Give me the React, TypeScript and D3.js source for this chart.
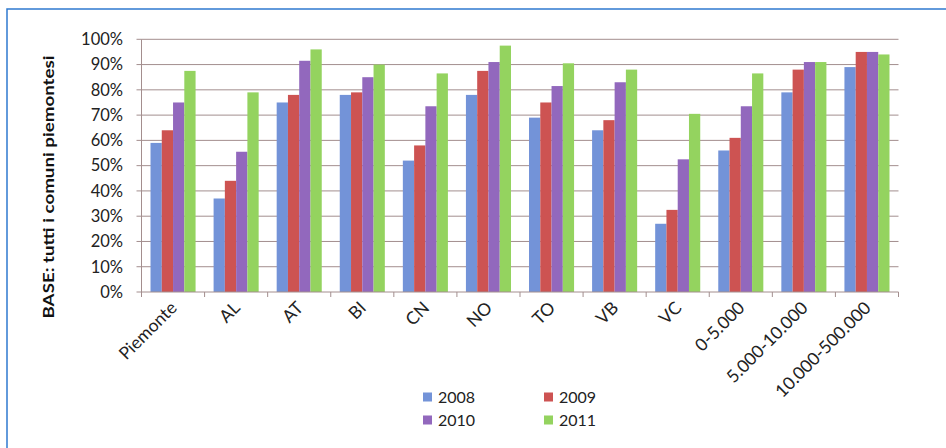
import React from "react";
import * as d3 from "d3";

const categories = ["Piemonte", "AL", "AT", "BI", "CN", "NO", "TO", "VB", "VC", "0-5.000", "5.000-10.000", "10.000-500.000"];
const seriesNames = ["2008", "2009", "2010", "2011"];
const v2008 = [59, 37, 75, 78, 52, 78, 69, 64, 27, 56, 79, 89];
const v2009 = [64, 44, 78, 79, 58, 87.5, 75, 68, 32.5, 61, 88, 95];
const v2010 = [75, 55.5, 91.5, 85, 73.5, 91, 81.5, 83, 52.5, 73.5, 91, 95];
const v2011 = [87.5, 79, 96, 90, 86.5, 97.5, 90.5, 88, 70.5, 86.5, 91, 94];
const yTicks = [0, 10, 20, 30, 40, 50, 60, 70, 80, 90, 100];
const colors = ["#7393d8", "#cd5352", "#9268bd", "#94d35f"];
const yTitle = "BASE: tutti i comuni piemontesi";

const W = 946;
const H = 448;
const FONT = "Lato, 'Open Sans', sans-serif";

export default function App() {
  const series = [v2008, v2009, v2010, v2011];
  const x0 = d3.scaleBand<string>().domain(categories).range([141.5, 898.5]).paddingInner(0).paddingOuter(0);
  const x1 = d3.scaleBand<string>().domain(seriesNames).range([0, x0.bandwidth()]).paddingOuter(0.8).paddingInner(0);
  const y = d3.scaleLinear().domain([0, 100]).range([292, 39.3]);
  const gridColor = "#a38e8e";

  return (
    <div style={{ position: "fixed", left: 0, top: 0, width: W, height: H, background: "#fff" }}>
      <svg width={W} height={H} style={{ display: "block" }} fontFamily={FONT}>
        <rect x={0} y={0} width={W} height={H} fill="#fff" />
        <path d="M7,448 L7,9 L946,9" fill="none" stroke="#2f7ad0" strokeWidth={1.5} />
        {yTicks.map((t) => (
          <g key={t}>
            {t > 0 && <line x1={x0.range()[0]} x2={x0.range()[1]} y1={y(t)} y2={y(t)} stroke={gridColor} strokeWidth={1} />}
            <line x1={x0.range()[0] - 5} x2={x0.range()[0]} y1={y(t)} y2={y(t)} stroke={gridColor} strokeWidth={1} />
            <text x={123} y={y(t)} dy="0.35em" textAnchor="end" fontSize={16.5} fill="#222">{t + "%"}</text>
          </g>
        ))}
        {categories.map((c, i) => (
          <g key={c}>
            {series.map((s, j) => (
              <rect
                key={j}
                x={(x0(c) as number) + (x1(seriesNames[j]) as number)}
                y={y(s[i])}
                width={x1.bandwidth()}
                height={y(0) - y(s[i])}
                fill={colors[j]}
              />
            ))}
          </g>
        ))}
        <line x1={x0.range()[0]} x2={x0.range()[0]} y1={y(100)} y2={y(0)} stroke={gridColor} strokeWidth={1} />
        <line x1={x0.range()[0]} x2={x0.range()[1]} y1={y(0)} y2={y(0)} stroke={gridColor} strokeWidth={1} />
        {categories.concat([""]).map((c, i) => {
          const xx = x0.range()[0] + i * x0.step();
          return <line key={"t" + i} x1={xx} x2={xx} y1={y(0)} y2={y(0) + 5} stroke={gridColor} strokeWidth={1} />;
        })}
        {categories.map((c) => {
          const cx = (x0(c) as number) + x0.bandwidth() / 2 + 5;
          const cy = y(0) + 17;
          return (
            <text key={"l" + c} x={cx} y={cy} textAnchor="end" fontSize={17.5} fill="#222" transform={`rotate(-45, ${cx}, ${cy})`}>
              {c}
            </text>
          );
        })}
        <text
          x={0}
          y={0}
          transform={`translate(54, ${187}) rotate(-90)`}
          textAnchor="middle"
          fontSize={16}
          fontWeight="bold"
          fill="#111"
          textLength={263}
          lengthAdjust="spacingAndGlyphs"
        >
          {yTitle}
        </text>
        {seriesNames.map((n, j) => {
          const col = j % 2;
          const row = Math.floor(j / 2);
          const lx = 423 + col * 121;
          const ly = 397 + row * 23;
          return (
            <g key={n}>
              <rect x={lx} y={ly - 4.5} width={9} height={9} fill={colors[j]} />
              <text x={lx + 15} y={ly} dy="0.35em" fontSize={16} fill="#222">{n}</text>
            </g>
          );
        })}
      </svg>
    </div>
  );
}
